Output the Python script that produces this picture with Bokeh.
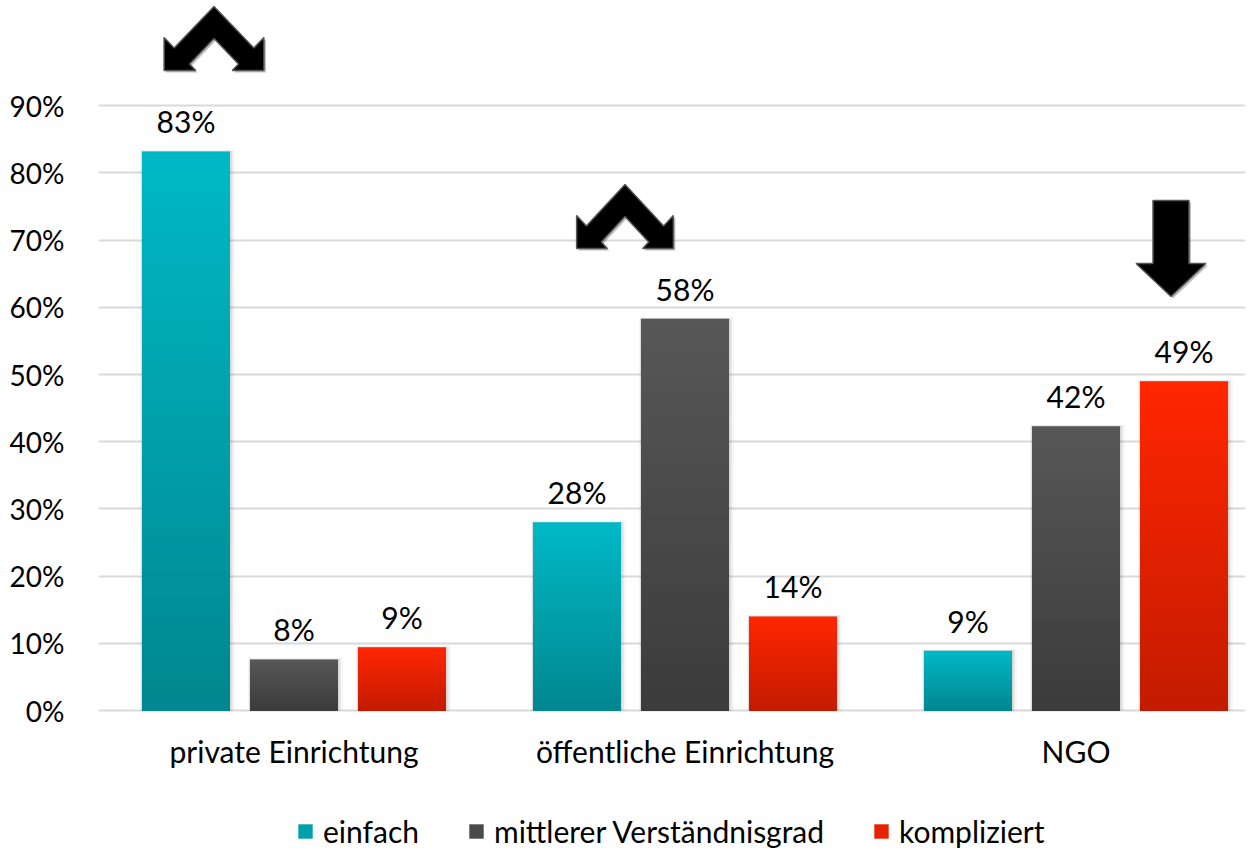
from bokeh.plotting import figure
from bokeh.models import Range1d, FixedTicker, PrintfTickFormatter, Legend, LegendItem, ColumnDataSource
from bokeh.embed import file_html
from bokeh.resources import INLINE
from bokeh.core.properties import value

# ---------------- data ----------------
categories = ["private Einrichtung", "öffentliche Einrichtung", "NGO"]
series_names = ["einfach", "mittlerer Verständnisgrad", "kompliziert"]
einfach = [83.2, 28.0, 8.9]
mittlerer = [7.6, 58.3, 42.3]
kompliziert = [9.4, 14.0, 49.0]
y_ticks = [0, 10, 20, 30, 40, 50, 60, 70, 80, 90]

# arrow annotations (one per category)
arrow_kinds = ["double", "double", "down"]

# ---------------- styles ----------------
FONT = "Lato"
FS = "30px"
FS_TICK = "28px"
top_colors = ["#00B8C5", "#575757", "#FF2600"]
bottom_colors = ["#00868E", "#3B3B3B", "#C21B00"]
mid_colors = ["#00A0AB", "#4A4A4A", "#E82200"]

W, H = 1245, 850
LEFT = 98
ZERO_PX = 710         # pixel row of the 0 % line
PX_X = 391.0          # pixels per category unit
PX_Y = 6.72           # pixels per percent
XMAX = (W - LEFT) / PX_X
YMAX = ZERO_PX / PX_Y
YMIN = -(H - ZERO_PX) / PX_Y

offsets = [-108 / PX_X, 0.0, 108 / PX_X]
bar_w = 88 / PX_X

p = figure(width=W, height=H, output_backend="svg", toolbar_location=None,
           x_range=Range1d(0, XMAX), y_range=Range1d(YMIN, YMAX),
           x_axis_location=None,
           min_border_left=LEFT, min_border_right=0, min_border_top=0,
           min_border_bottom=0)
p.outline_line_color = None
p.background_fill_color = "white"
p.border_fill_color = "white"

# y axis
p.yaxis.ticker = FixedTicker(ticks=y_ticks)
p.yaxis.formatter = PrintfTickFormatter(format="%d%%")
p.yaxis.axis_line_color = None
p.yaxis.major_tick_line_color = None
p.yaxis.minor_tick_line_color = None
p.yaxis.major_label_text_font = FONT
p.yaxis.major_label_text_font_size = FS_TICK
p.yaxis.major_label_text_color = "#000000"
p.yaxis.major_label_standoff = 28
p.xgrid.grid_line_color = None
p.ygrid.grid_line_color = "#D9D9D9"
p.ygrid.grid_line_width = 2

# category labels
p.text(x=[i + 0.5 for i in range(len(categories))], y=[0] * len(categories), text=categories,
       text_align="center", text_baseline="middle", y_offset=40,
       text_font=value(FONT), text_font_size=FS, text_color="#000000")


def lerp(c1, c2, t):
    a = [int(c1[i:i + 2], 16) for i in (1, 3, 5)]
    b = [int(c2[i:i + 2], 16) for i in (1, 3, 5)]
    return "#%02x%02x%02x" % tuple(round(a[k] + (b[k] - a[k]) * t) for k in range(3))


all_values = [einfach, mittlerer, kompliziert]
N = 40
legend_items = []
for s, vals in enumerate(all_values):
    xs = [i + 0.5 + offsets[s] for i in range(len(categories))]
    # soft shadow
    for k, (pad, alpha) in enumerate([(5, 0.03), (3, 0.05), (1.5, 0.08)]):
        p.quad(left=[x - bar_w / 2 - pad / PX_X * 0.4 for x in xs],
               right=[x + bar_w / 2 + pad / PX_X for x in xs],
               bottom=[0] * len(xs),
               top=[v + pad / PX_Y * 0.3 for v in vals],
               fill_color="#000000", fill_alpha=alpha, line_color=None)
    # gradient: tallest (top colour) first, shorter (darker) quads painted over
    L, R, T, B, C = [], [], [], [], []
    for k in range(N):
        t = k / N
        for x, v in zip(xs, vals):
            L.append(x - bar_w / 2)
            R.append(x + bar_w / 2)
            B.append(0)
            T.append(v * (1 - t))
            C.append(lerp(top_colors[s], bottom_colors[s], t))
    src = ColumnDataSource(dict(left=L, right=R, top=T, bottom=B, color=C))
    p.quad(left="left", right="right", top="top", bottom="bottom",
           fill_color="color", line_color=None, source=src)
    # legend proxy
    proxy = p.quad(left=[0], right=[0], top=[0], bottom=[0],
                   fill_color=mid_colors[s], line_color=None)
    legend_items.append(LegendItem(label=series_names[s], renderers=[proxy]))
    # data labels
    p.text(x=xs, y=vals, text=["%d%%" % round(v) for v in vals],
           text_align="center", text_baseline="alphabetic", y_offset=-30,
           text_font=value(FONT), text_font_size=FS, text_color="#000000")

# ---------------- arrows ----------------
double_shape = [(0, 0), (-41.5, 41.5), (-52, 31), (-52, 64), (-19, 64), (-25.5, 57.5),
                (0, 32), (25.5, 57.5), (19, 64), (52, 64), (52, 31), (41.5, 41.5)]
down_shape = [(-18, 0), (18, 0), (18, 63), (35, 63), (0, 96), (-35, 63), (-18, 63)]
arrow_scale = [(0.96, 1.0), (0.93, 1.0), (1.0, 1.0)]
arrow_anchor_px = [(-80, 704), (-60, 526), (95, 510)]  # relative to group centre / above zero line
for i, kind in enumerate(arrow_kinds):
    shape = double_shape if kind == "double" else down_shape
    sx, sy = arrow_scale[i]
    ax0 = i + 0.5 + arrow_anchor_px[i][0] / PX_X
    ay0 = arrow_anchor_px[i][1] / PX_Y
    xs = [ax0 + dx * sx / PX_X for dx, dy in shape]
    ys = [ay0 - dy * sy / PX_Y for dx, dy in shape]
    p.patch(x=[x + 2 / PX_X for x in xs], y=[y - 2 / PX_Y for y in ys],
            fill_color="#000000", fill_alpha=0.25, line_color=None)
    p.patch(x=xs, y=ys, fill_color="#000000", line_color="#555555", line_width=1.5)

legend = Legend(items=legend_items, orientation="horizontal", location=(198, 1),
                label_text_font=FONT, label_text_font_size=FS, label_text_color="#000000",
                glyph_width=18, glyph_height=18, spacing=48, label_standoff=9,
                border_line_color=None, background_fill_alpha=0,
                padding=0, margin=0)
p.add_layout(legend)

open("out.html", "w").write(file_html(p, INLINE))
